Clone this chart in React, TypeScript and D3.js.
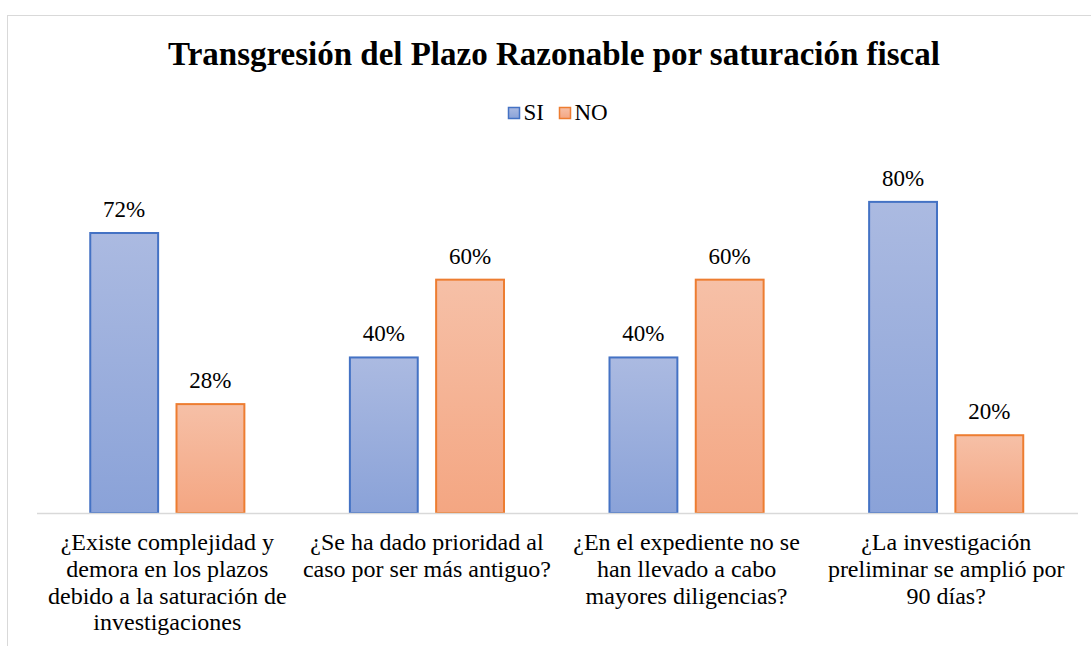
import React, { useEffect, useRef } from "react";
import * as d3 from "d3";

const WIDTH = 1091;
const HEIGHT = 646;
const FONT = "Liberation Serif";

const TITLE = "Transgresión del Plazo Razonable por saturación fiscal";
const SERIES = ["SI", "NO"];
const CATEGORIES = ["q1", "q2", "q3", "q4"];
const CATEGORY_LINES = [
  ["¿Existe complejidad y", "demora en los plazos", "debido a la saturación de", "investigaciones"],
  ["¿Se ha dado prioridad al", "caso por ser más antiguo?"],
  ["¿En el expediente no se", "han llevado a cabo", "mayores diligencias?"],
  ["¿La investigación", "preliminar se amplió por", "90 días?"]
];
const SI_VALUES = [0.72, 0.4, 0.4, 0.8];
const NO_VALUES = [0.28, 0.6, 0.6, 0.2];

const STROKES = { SI: "#4472c4", NO: "#ed7d31" };
const GRADS = {
  SI: ["#abbae1", "#8aa2d8"],
  NO: ["#f6c0a7", "#f4a682"]
};

export default function App() {
  const ref = useRef<SVGSVGElement>(null);

  useEffect(() => {
    const svg = d3.select(ref.current);
    svg.selectAll("*").remove();

    // chart border, runs off the right and bottom edge
    svg.append("rect")
      .attr("x", 7.5).attr("y", 15.5)
      .attr("width", 1100).attr("height", 700)
      .attr("fill", "#fff")
      .attr("stroke", "#d9d9d9").attr("stroke-width", 1);

    const defs = svg.append("defs");
    for (const s of SERIES) {
      const g = defs.append("linearGradient")
        .attr("id", "grad-" + s)
        .attr("x1", 0).attr("y1", 0).attr("x2", 0).attr("y2", 1);
      g.append("stop").attr("offset", "0%").attr("stop-color", GRADS[s][0]);
      g.append("stop").attr("offset", "100%").attr("stop-color", GRADS[s][1]);
    }

    const x0 = d3.scaleBand().domain(CATEGORIES).range([37.5, 1076]);
    const x1 = d3.scaleBand().domain(SERIES).range([0, x0.bandwidth()])
      .paddingInner(0.19).paddingOuter(0.6);
    const y = d3.scaleLinear().domain([0, 0.9]).range([513, 163]);

    const root = svg.append("g")
      .attr("font-family", FONT)
      .attr("fill", "#000");

    root.append("text")
      .attr("x", 554).attr("y", 65)
      .attr("text-anchor", "middle")
      .attr("font-size", 33).attr("font-weight", "bold")
      .text(TITLE);

    // legend
    const legendX = [508.5, 559.5];
    SERIES.forEach((s, i) => {
      root.append("rect")
        .attr("x", legendX[i]).attr("y", 107.5)
        .attr("width", 11).attr("height", 11)
        .attr("fill", `url(#grad-${s})`)
        .attr("stroke", STROKES[s]).attr("stroke-width", 1.5);
      root.append("text")
        .attr("x", legendX[i] + 15).attr("y", 120)
        .attr("font-size", 23)
        .text(s);
    });

    const rows = CATEGORIES.map((c, i) => ({ c, SI: SI_VALUES[i], NO: NO_VALUES[i] }));
    const fmt = d3.format(".0%");

    const groups = root.append("g").selectAll("g").data(rows).join("g")
      .attr("transform", d => `translate(${x0(d.c)},0)`);

    groups.selectAll("rect")
      .data(d => SERIES.map(s => ({ s, v: d[s] })))
      .join("rect")
      .attr("x", d => x1(d.s) + 1)
      .attr("y", d => y(d.v))
      .attr("width", x1.bandwidth() - 2)
      .attr("height", d => y(0) - y(d.v))
      .attr("fill", d => `url(#grad-${d.s})`)
      .attr("stroke", d => STROKES[d.s])
      .attr("stroke-width", 2);

    groups.selectAll("text.lbl")
      .data(d => SERIES.map(s => ({ s, v: d[s] })))
      .join("text")
      .attr("class", "lbl")
      .attr("x", d => x1(d.s) + x1.bandwidth() / 2)
      .attr("y", d => y(d.v) - 16)
      .attr("text-anchor", "middle")
      .attr("font-size", 23)
      .text(d => fmt(d.v));

    // category axis
    root.append("line")
      .attr("x1", 37).attr("x2", 1078)
      .attr("y1", 513.5).attr("y2", 513.5)
      .attr("stroke", "#d9d9d9").attr("stroke-width", 1.5);

    CATEGORIES.forEach((c, i) => {
      const t = root.append("text")
        .attr("text-anchor", "middle")
        .attr("font-size", 24);
      CATEGORY_LINES[i].forEach((line, j) => {
        t.append("tspan")
          .attr("x", x0(c) + x0.bandwidth() / 2)
          .attr("y", 550 + j * 26.8)
          .text(line);
      });
    });
  }, []);

  return (
    <svg
      ref={ref}
      width={WIDTH}
      height={HEIGHT}
      style={{ position: "absolute", left: 0, top: 0, background: "#fff" }}
    />
  );
}
